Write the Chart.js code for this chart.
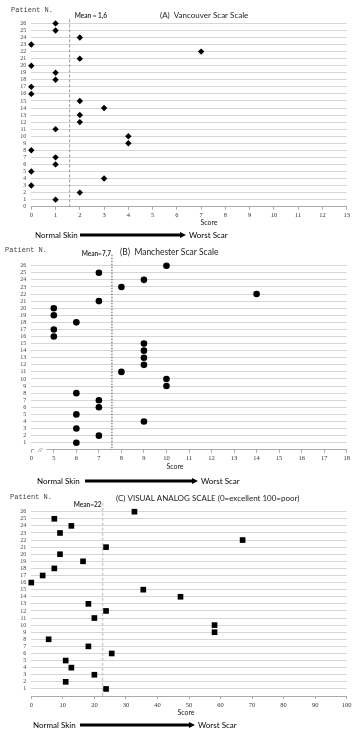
<!DOCTYPE html>
<html>
<head>
<meta charset="utf-8">
<script src="https://cdn.jsdelivr.net/npm/chart.js@4"></script>
<style>
  body { margin: 0; background: #fff; width: 360px; }
  .box { position: relative; width: 360px; }
</style>
</head>
<body>
<div class="box" style="height:245px"><canvas id="cA"></canvas></div>
<div class="box" style="height:245px"><canvas id="cB"></canvas></div>
<div class="box" style="height:244px"><canvas id="cC"></canvas></div>
<script>
// patient number 1..26 (y axis)
const patients = [1, 2, 3, 4, 5, 6, 7, 8, 9, 10, 11, 12, 13, 14, 15, 16, 17, 18, 19, 20, 21, 22, 23, 24, 25, 26];

// scores, patient 1 first
const vancouver = [1, 2, 0, 3, 0, 1, 1, 0, 4, 4, 1, 2, 2, 3, 2, 0, 0, 1, 1, 0, 2, 7, 0, 2, 1, 1];
const manchester = [6, 7, 6, 9, 6, 7, 7, 6, 10, 10, 8, 9, 9, 9, 9, 5, 5, 6, 5, 5, 7, 14, 8, 9, 7, 10];
const vas = [23.7, 10.9, 20, 12.7, 10.9, 25.5, 18.1, 5.5, 58.1, 58.1, 20, 23.7, 18.1, 47.3, 35.5, 0, 3.6, 7.3, 16.4, 9.1, 23.7, 67, 9.1, 12.7, 7.3, 32.7];

const titles = ["(A)  Vancouver Scar Scale", "(B)  Manchester Scar Scale", "(C) VISUAL ANALOG SCALE (0=excellent 100=poor)"];
const meanLines = [1.58, 7.58, 22.6];
const meanLabels = ["Mean = 1,6", "Mean=7,7", "Mean=22"];

const serif = "'Liberation Serif', serif";
const sans = "Lato, 'Open Sans', sans-serif";

const deco = {
  id: "deco",
  beforeDatasetsDraw(chart, args, o) {
    const ctx = chart.ctx;
    const a = chart.chartArea;
    const x = chart.scales.x.getPixelForValue(o.mean);
    ctx.save();
    ctx.strokeStyle = o.meanColor;
    ctx.lineWidth = o.meanWidth;
    ctx.setLineDash(o.dash);
    ctx.beginPath();
    ctx.moveTo(x, a.top - o.above);
    ctx.lineTo(x, a.bottom);
    ctx.stroke();
    ctx.restore();
  },
  afterDraw(chart, args, o) {
    const ctx = chart.ctx;
    const a = chart.chartArea;
    const mx = chart.scales.x.getPixelForValue(o.mean);
    ctx.save();
    ctx.textBaseline = "middle";
    ctx.fillStyle = "#444";

    ctx.font = "7px 'Liberation Mono', monospace";
    ctx.fillText("Patient N.", o.patX, o.patY);

    ctx.fillStyle = "#222";
    ctx.font = o.titleFont;
    ctx.fillText(o.title, o.titleX, o.titleY);

    ctx.font = "bold 6.5px " + sans;
    ctx.fillStyle = "#333";
    if (o.meanSide === "right") {
      ctx.textAlign = "left";
      ctx.fillText(o.meanLabel, mx + 5, o.meanY);
    } else {
      ctx.textAlign = "right";
      ctx.fillText(o.meanLabel, mx - 1, o.meanY);
    }

    ctx.textAlign = "center";
    ctx.fillStyle = "#222";
    ctx.font = "7px " + sans;
    ctx.fillText("Score", o.scoreX, o.scoreY);

    // normal skin -> worst scar arrow
    ctx.textAlign = "left";
    ctx.font = "8px " + sans;
    ctx.fillStyle = "#000";
    ctx.fillText("Normal Skin", o.arr[0], o.arrY);
    ctx.fillRect(o.arr[1], o.arrY - 1.5, o.arr[2] - o.arr[1] - 5, 3);
    ctx.beginPath();
    ctx.moveTo(o.arr[2], o.arrY);
    ctx.lineTo(o.arr[2] - 6, o.arrY - 3);
    ctx.lineTo(o.arr[2] - 6, o.arrY + 3);
    ctx.closePath();
    ctx.fill();
    ctx.fillText("Worst Scar", o.arr[2] + 3, o.arrY);

    if (o.brk != null) {
      const bx = chart.scales.x.getPixelForValue(o.brk);
      ctx.fillStyle = "#fff";
      ctx.fillRect(bx - 6, a.bottom - 2, 12, 4);
      ctx.fillStyle = "#444";
      ctx.textAlign = "center";
      ctx.font = "italic 7px " + serif;
      ctx.fillText("//", bx, a.bottom);
    }
    ctx.restore();
  }
};

function makePanel(id, values, p) {
  new Chart(document.getElementById(id), {
    type: "scatter",
    data: {
      datasets: [{
        data: patients.map((n, i) => ({ x: values[i], y: n })),
        pointStyle: p.point,
        pointRadius: p.radius,
        backgroundColor: "#000",
        borderColor: "#000",
        borderWidth: 0,
        clip: false
      }]
    },
    options: {
      responsive: true,
      maintainAspectRatio: false,
      animation: false,
      layout: { padding: { top: p.top, right: 13.3, left: 0, bottom: 0 } },
      plugins: {
        legend: { display: false },
        tooltip: { enabled: false },
        deco: p.deco
      },
      scales: {
        x: {
          type: "linear",
          min: p.min,
          max: p.max,
          ticks: {
            stepSize: p.step,
            autoSkip: false,
            maxRotation: 0,
            padding: 2,
            color: "#333",
            font: { family: serif, size: 6.5 },
            callback: p.xLabel || (v => v)
          },
          grid: { drawOnChartArea: false, drawTicks: true, tickLength: 3, color: "#aaa" },
          border: { color: "#aaa" },
          afterFit: s => { s.height = p.xh; }
        },
        y: {
          min: 0,
          max: 26,
          ticks: {
            stepSize: 1,
            autoSkip: false,
            padding: 5,
            color: "#444",
            font: { family: serif, size: 6 },
            callback: v => (v === 0 && !p.zero) ? "" : v
          },
          grid: { color: "#d6d6d6", drawTicks: false },
          border: { display: false },
          afterFit: s => { s.width = 31.3; }
        }
      }
    },
    plugins: [deco]
  });
}

makePanel("cA", vancouver, {
  point: "rectRot", radius: 3.2, top: 23.4, xh: 38.3, min: 0, max: 13, step: 1, zero: true,
  deco: {
    mean: meanLines[0], meanLabel: meanLabels[0], meanSide: "right", meanY: 16,
    meanColor: "#999", meanWidth: 1, dash: [3, 2], above: 4,
    title: titles[0], titleX: 160, titleY: 15, titleFont: "8px " + sans,
    patX: 11, patY: 10, scoreX: 209, scoreY: 223, arr: [35, 80, 186], arrY: 235
  }
});

makePanel("cB", manchester, {
  point: "circle", radius: 3.3, top: 20.7, xh: 40.2, min: 4, max: 18, step: 1, zero: false,
  xLabel: v => v === 4 ? "0" : v,
  deco: {
    mean: meanLines[1], meanLabel: meanLabels[1], meanSide: "left", meanY: 9,
    meanColor: "#555", meanWidth: 1, dash: [1.5, 1.5], above: 11,
    title: titles[1], titleX: 120, titleY: 7, titleFont: "8.5px " + sans,
    patX: 5, patY: 5, scoreX: 175, scoreY: 222, arr: [37, 85, 198], arrY: 236, brk: 4.4
  }
});

makePanel("cC", vas, {
  point: "rect", radius: 4, top: 21.7, xh: 38, min: 0, max: 100, step: 10, zero: false,
  deco: {
    mean: meanLines[2], meanLabel: meanLabels[2], meanSide: "left", meanY: 15,
    meanColor: "#ccc", meanWidth: 1.5, dash: [3, 2], above: 9,
    title: titles[2], titleX: 116, titleY: 8, titleFont: "8px " + sans,
    patX: 10, patY: 7, scoreX: 186, scoreY: 223, arr: [33, 80, 195], arrY: 235
  }
});
</script>
</body>
</html>
